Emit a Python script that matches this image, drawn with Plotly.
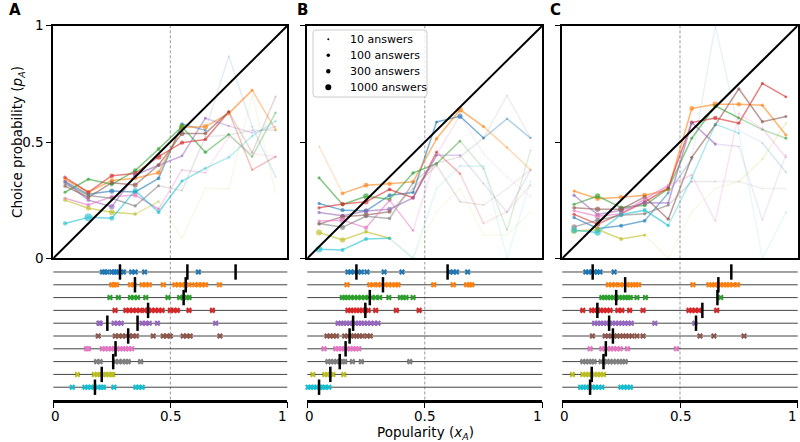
import plotly.graph_objects as go

# ---------------- data ----------------
bins = [0.05, 0.15, 0.25, 0.35, 0.45, 0.55, 0.65, 0.75, 0.85, 0.95]
series_colors = ['#1f77b4', '#ff7f0e', '#2ca02c', '#d62728', '#9467bd',
                 '#8c564b', '#e377c2', '#7f7f7f', '#bcbd22', '#17becf']

pA_A = [
    [0.33, 0.275, 0.289, 0.285, 0.344, 0.577, 0.55, 0.87, 0.566, 0.351],
    [0.34, 0.284, 0.335, 0.344, 0.368, 0.563, 0.566, 0.623, 0.723, 0.552],
    [0.284, 0.34, 0.318, 0.377, 0.47, 0.566, 0.456, 0.533, 0.437, 0.626],
    [0.348, 0.284, 0.355, 0.365, 0.437, 0.497, 0.511, 0.63, 0.38, 0.437],
    [0.33, 0.25, 0.222, 0.358, 0.40, 0.44, 0.602, 0.569, 0.54, 0.566],
    [0.31, 0.262, 0.325, 0.315, 0.401, 0.537, 0.537, 0.63, 0.454, 0.695],
    [0.258, 0.229, 0.265, 0.272, 0.212, 0.38, 0.368, 0.523, 0.45, 0.437],
    [0.32, 0.27, 0.258, 0.225, 0.312, 0.291, 0.523, 0.53, 0.55, 0.55],
    [0.25, 0.215, 0.198, 0.19, 0.244, 0.087, 0.301, 0.298, 0.702, 0.284],
    [0.15, 0.176, 0.172, 0.291, 0.198, 0.332, 0.387, 0.434, 0.526, 0.59],
]
n_A = [
    [80, 100, 500, 200, 150, 120, 40, 6, 10, 8],
    [80, 200, 300, 250, 400, 600, 600, 150, 50, 30],
    [60, 80, 200, 300, 150, 800, 120, 40, 25, 25],
    [100, 150, 300, 400, 800, 250, 120, 60, 20, 20],
    [60, 120, 700, 400, 60, 40, 50, 25, 15, 12],
    [80, 150, 250, 500, 200, 500, 150, 60, 15, 15],
    [80, 150, 250, 500, 60, 20, 20, 10, 8, 10],
    [80, 120, 250, 80, 60, 15, 12, 10, 10, 10],
    [120, 400, 800, 120, 30, 4, 4, 4, 3, 4],
    [200, 3000, 400, 600, 150, 50, 35, 25, 20, 20],
]

pA_B = [
    [0.236, 0.207, 0.204, 0.271, 0.283, 0.586, 0.611, 0.517, 0.6, 0.517],
    [0.481, 0.279, 0.314, 0.321, 0.329, 0.514, 0.639, 0.566, 0.476, 0.381],
    [0.346, 0.231, 0.267, 0.254, 0.367, 0.407, 0.504, 0.386, 0.121, 0.464],
    [0.217, 0.233, 0.243, 0.296, 0.26, 0.457, 0.364, 0.15, 0.2, 0.314],
    [0.197, 0.183, 0.203, 0.211, 0.26, 0.443, 0.443, 0.321, 0.197, 0.379],
    [0.147, 0.179, 0.186, 0.2, 0.30, 0.4, 0.243, 0.229, 0.3, 0.38],
    [0.16, 0.164, 0.131, 0.25, 0.119, 0.447, 0.614, 0.45, 0.35, 0.264],
    [0.15, 0.133, 0.181, 0.171, 0.324, 0.41, 0.436, 0.517, 0.7, 0.517],
    [0.111, 0.079, 0.114, 0.086, 0.0, 0.2, 0.3, 0.1, 0.1, 0.2],
    [0.039, 0.036, 0.083, 0.086, 0.0, 0.3, 0.397, 0.397, 0.0, 0.331],
]
n_B = [
    [80, 200, 300, 150, 80, 60, 500, 60, 25, 25],
    [12, 150, 400, 300, 150, 80, 800, 60, 25, 20],
    [60, 150, 800, 150, 100, 50, 40, 12, 10, 10],
    [80, 300, 500, 150, 150, 50, 25, 10, 3, 10],
    [80, 150, 500, 400, 100, 50, 25, 12, 10, 10],
    [100, 500, 500, 200, 15, 20, 10, 8, 3, 4],
    [80, 1200, 300, 150, 40, 12, 12, 4, 3, 8],
    [80, 500, 200, 100, 40, 20, 12, 10, 6, 10],
    [1000, 600, 150, 80, 3, 2, 2, 2, 2, 2],
    [1500, 200, 150, 100, 10, 5, 12, 10, 3, 8],
]

pA_C = [
    [0.175, 0.128, 0.14, 0.161, 0.281, 0.426, 1.0, 0.55, 0.496, 0.37],
    [0.289, 0.256, 0.262, 0.271, 0.295, 0.644, 0.662, 0.662, 0.658, 0.53],
    [0.232, 0.268, 0.218, 0.228, 0.299, 0.516, 0.655, 0.603, 0.553, 0.516],
    [0.189, 0.147, 0.192, 0.242, 0.303, 0.584, 0.603, 0.581, 0.752, 0.694],
    [0.271, 0.188, 0.207, 0.239, 0.238, 0.584, 0.491, 0.481, 0.164, 0.446],
    [0.217, 0.211, 0.211, 0.264, 0.168, 0.434, 0.574, 0.729, 0.587, 0.61],
    [0.204, 0.181, 0.192, 0.255, 0.313, 0.359, 0.16, 0.622, 0.558, 0.434],
    [0.135, 0.164, 0.185, 0.192, 0.228, 0.33, 0.33, 0.33, 0.3, 0.3],
    [0.117, 0.124, 0.083, 0.1, 0.0, 0.2, 0.3, 0.33, 0.426, 0.581],
    [0.121, 0.111, 0.188, 0.207, 0.141, 0.345, 0.577, 0.538, 0.0, 0.197],
]
n_C = [
    [100, 200, 200, 150, 40, 20, 3, 3, 10, 12],
    [80, 300, 400, 400, 120, 400, 800, 300, 80, 60],
    [80, 600, 200, 200, 150, 50, 200, 50, 25, 50],
    [80, 600, 200, 150, 80, 200, 300, 80, 60, 50],
    [80, 200, 250, 300, 60, 100, 60, 12, 6, 10],
    [150, 600, 1000, 200, 80, 80, 80, 60, 80, 50],
    [80, 800, 250, 200, 50, 20, 12, 12, 20, 25],
    [600, 400, 200, 100, 50, 20, 10, 4, 4, 4],
    [800, 1000, 150, 80, 5, 3, 4, 8, 12, 15],
    [800, 1200, 300, 200, 80, 25, 40, 25, 3, 12],
]

# popularity of individual items (crosses) and group means (black bars)
pop_A = [
    [0.21, 0.22, 0.23, 0.25, 0.26, 0.27, 0.28, 0.29, 0.3, 0.335, 0.35, 0.39, 0.62],
    [0.25, 0.26, 0.27, 0.33, 0.345, 0.38, 0.395, 0.41, 0.47, 0.52, 0.535, 0.55, 0.565, 0.58, 0.605, 0.62, 0.635, 0.65, 0.71],
    [0.242, 0.278, 0.33, 0.345, 0.36, 0.395, 0.49, 0.54, 0.555, 0.57, 0.58],
    [0.264, 0.31, 0.325, 0.34, 0.355, 0.37, 0.39, 0.405, 0.42, 0.435, 0.45, 0.465, 0.5, 0.515, 0.53, 0.58, 0.68],
    [0.195, 0.2, 0.26, 0.275, 0.29, 0.38, 0.395, 0.41, 0.445, 0.694],
    [0.192, 0.265, 0.28, 0.295, 0.31, 0.325, 0.34, 0.355, 0.427, 0.47, 0.485, 0.5, 0.555, 0.57, 0.585, 0.712],
    [0.142, 0.15, 0.21, 0.222, 0.235, 0.248, 0.26, 0.272, 0.285, 0.298, 0.31, 0.322, 0.335],
    [0.185, 0.2, 0.265, 0.28, 0.295, 0.31, 0.32, 0.373],
    [0.103, 0.175, 0.188, 0.2, 0.212, 0.224, 0.236, 0.248, 0.254],
    [0.081, 0.135, 0.148, 0.16, 0.175, 0.19, 0.205, 0.214, 0.259, 0.353, 0.365, 0.38],
]
mean_A = [[0.285, 0.573, 0.779], [0.349, 0.566], [0.557], [0.405], [0.231, 0.36],
          [0.32], [0.266], [0.256], [0.207], [0.178]]

pop_B = [
    [0.173, 0.185, 0.2, 0.215, 0.23, 0.254, 0.327, 0.403, 0.607, 0.62, 0.635, 0.682],
    [0.169, 0.266, 0.28, 0.3, 0.315, 0.33, 0.345, 0.36, 0.375, 0.386, 0.538, 0.621, 0.678, 0.69, 0.7],
    [0.149, 0.16, 0.172, 0.185, 0.2, 0.215, 0.23, 0.245, 0.26, 0.275, 0.29, 0.308, 0.347, 0.396, 0.408, 0.42, 0.45],
    [0.173, 0.185, 0.197, 0.21, 0.222, 0.235, 0.247, 0.259, 0.291, 0.379, 0.476],
    [0.131, 0.143, 0.155, 0.167, 0.18, 0.192, 0.205, 0.218, 0.23, 0.243, 0.256, 0.27, 0.285, 0.301],
    [0.084, 0.097, 0.11, 0.124, 0.159, 0.172, 0.185, 0.198, 0.21, 0.222, 0.235, 0.255, 0.268],
    [0.071, 0.121, 0.133, 0.145, 0.157, 0.17, 0.183, 0.195, 0.207, 0.219],
    [0.088, 0.1, 0.112, 0.125, 0.137, 0.15, 0.159, 0.192, 0.23, 0.436],
    [0.024, 0.074, 0.086, 0.098, 0.109, 0.155],
    [0.003, 0.015, 0.027, 0.04, 0.052, 0.064, 0.074, 0.092],
]
mean_B = [[0.209, 0.597], [0.322], [0.266], [0.247], [0.195], [0.18], [0.163],
          [0.138], [0.098], [0.05]]

pop_C = [
    [0.1, 0.112, 0.125, 0.137, 0.148, 0.16, 0.22],
    [0.196, 0.21, 0.225, 0.246, 0.26, 0.274, 0.288, 0.3, 0.312, 0.324, 0.555, 0.623, 0.635, 0.648, 0.66, 0.672, 0.685, 0.698, 0.71, 0.725, 0.744],
    [0.168, 0.18, 0.192, 0.205, 0.217, 0.23, 0.242, 0.255, 0.267, 0.279, 0.289, 0.317, 0.353, 0.673],
    [0.087, 0.125, 0.137, 0.15, 0.162, 0.175, 0.19, 0.203, 0.236, 0.253, 0.286, 0.343, 0.538, 0.55, 0.565, 0.58, 0.656],
    [0.137, 0.15, 0.162, 0.175, 0.188, 0.2, 0.213, 0.226, 0.24, 0.253, 0.266, 0.28, 0.293, 0.393, 0.563],
    [0.128, 0.182, 0.195, 0.208, 0.22, 0.232, 0.245, 0.258, 0.27, 0.283, 0.296, 0.317, 0.343, 0.585, 0.644, 0.772],
    [0.118, 0.168, 0.18, 0.192, 0.205, 0.218, 0.232, 0.246, 0.277, 0.485],
    [0.087, 0.1, 0.112, 0.125, 0.135, 0.165, 0.178, 0.19, 0.203, 0.216, 0.23, 0.243, 0.255, 0.267],
    [0.043, 0.087, 0.1, 0.112, 0.125, 0.137, 0.15, 0.162, 0.175],
    [0.078, 0.09, 0.102, 0.115, 0.128, 0.14, 0.155, 0.168, 0.249, 0.262, 0.276, 0.289],
]
mean_C = [[0.129, 0.718], [0.267, 0.663], [0.229, 0.659], [0.149, 0.595], [0.199, 0.568],
          [0.215], [0.185], [0.175], [0.125], [0.118]]

legend_counts = [10, 100, 300, 1000]
panel_labels = ['A', 'B', 'C']
tick_vals = [0, 0.5, 1]
tick_text = ['0', '0.5', '1']
tick_label_nudge = [2, 0, -5]   # pixel nudge of bottom tick labels, as in the reference

# ---------------- helpers ----------------
def msize(n):
    return 1.15 * n ** 0.24

def alpha(n):
    return min(0.9, 0.1 + n / 60.0)

def rgba(hexc, a):
    h = hexc.lstrip('#')
    r, g, b = int(h[0:2], 16), int(h[2:4], 16), int(h[4:6], 16)
    return f'rgba({r},{g},{b},{a:.3f})'

FONT = 'DejaVu Sans'
W, H = 800, 442
def px(x):
    return x / W
def py(y):
    return (H - y) / H

x_dom = [[53.3, 287.3], [307.3, 542.3], [562.3, 797.7]]
top_dom = [py(258.3), py(25.7)]
bot_dom = [py(399.5), py(262.0)]
row_range = [9.96, -0.78]

fig = go.Figure()

panels = [(pA_A, n_A, pop_A, mean_A), (pA_B, n_B, pop_B, mean_B), (pA_C, n_C, pop_C, mean_C)]

for pi, (pvals, nvals, pops, means) in enumerate(panels):
    xt = 'x' if pi == 0 else f'x{pi + 1}'
    yt = 'y' if pi == 0 else f'y{pi + 1}'
    xb = f'x{pi + 4}'
    yb = f'y{pi + 4}'
    for si in range(10):
        col = series_colors[si]
        ys = pvals[si]
        ns = nvals[si]
        for k in range(len(bins) - 1):
            a = 0.65 * min(alpha(ns[k]), alpha(ns[k + 1]))
            fig.add_trace(go.Scatter(
                x=[bins[k], bins[k + 1]], y=[ys[k], ys[k + 1]], mode='lines',
                line=dict(color=rgba(col, a), width=1.5),
                xaxis=xt, yaxis=yt, showlegend=False, hoverinfo='skip'))
    for si in range(10):
        col = series_colors[si]
        ys = pvals[si]
        ns = nvals[si]
        fig.add_trace(go.Scatter(
            x=bins, y=ys, mode='markers',
            marker=dict(size=[msize(n) for n in ns],
                        color=[rgba(col, alpha(n)) for n in ns], line=dict(width=0)),
            xaxis=xt, yaxis=yt, showlegend=False))
    for si in range(10):
        col = series_colors[si]
        fig.add_trace(go.Scatter(
            x=pops[si], y=[si] * len(pops[si]), mode='markers',
            marker=dict(symbol='x-thin', size=4.5, line=dict(width=2.2, color=col), color=col),
            xaxis=xb, yaxis=yb, showlegend=False, cliponaxis=False))
    for si in range(10):
        fig.add_trace(go.Scatter(
            x=means[si], y=[si] * len(means[si]), mode='markers',
            marker=dict(symbol='line-ns', size=11, line=dict(width=2.5, color='black')),
            xaxis=xb, yaxis=yb, showlegend=False, cliponaxis=False))

shapes = []
annotations = []
for pi in range(3):
    xt = 'x' if pi == 0 else f'x{pi + 1}'
    yt = 'y' if pi == 0 else f'y{pi + 1}'
    xb = f'x{pi + 4}'
    yb = f'y{pi + 4}'
    shapes.append(dict(type='line', xref=xt, yref=yt, x0=0, y0=0, x1=1, y1=1,
                       line=dict(color='black', width=2), layer='above'))
    shapes.append(dict(type='line', xref=xt, yref=f'{yt} domain', x0=0.5, x1=0.5, y0=0, y1=1,
                       line=dict(color='#999999', width=1, dash='3px,2px'), layer='below'))
    shapes.append(dict(type='line', xref=xb, yref=f'{yb} domain', x0=0.5, x1=0.5, y0=0, y1=1,
                       line=dict(color='#999999', width=1, dash='3px,2px'), layer='below'))
    for si in range(10):
        shapes.append(dict(type='line', xref=f'{xb} domain', yref=yb, x0=0, x1=1, y0=si, y1=si,
                           line=dict(color='#444444', width=1), layer='below'))
    annotations.append(dict(text=f'<b>{panel_labels[pi]}</b>', xref='paper', yref='paper',
                            x=px([15, 302, 555][pi]), y=py(10), xanchor='center', yanchor='middle',
                            showarrow=False, font=dict(family=FONT, size=15, color='black')))
    for tv, tt, dx in zip(tick_vals, tick_text, tick_label_nudge):
        annotations.append(dict(text=tt, xref=xb, yref='paper', x=tv, y=py(415.5),
                                xshift=dx, xanchor='center', yanchor='middle', showarrow=False,
                                font=dict(family=FONT, size=13.5, color='black')))

# legend (box, size markers, labels) drawn in panel B
lx0, lx1, ly0, ly1, rr = 313.0, 427.0, 30.0, 97.0, 3.0
box_path = (f'M {px(lx0 + rr)},{py(ly0)} L {px(lx1 - rr)},{py(ly0)} '
            f'Q {px(lx1)},{py(ly0)} {px(lx1)},{py(ly0 + rr)} '
            f'L {px(lx1)},{py(ly1 - rr)} Q {px(lx1)},{py(ly1)} {px(lx1 - rr)},{py(ly1)} '
            f'L {px(lx0 + rr)},{py(ly1)} Q {px(lx0)},{py(ly1)} {px(lx0)},{py(ly1 - rr)} '
            f'L {px(lx0)},{py(ly0 + rr)} Q {px(lx0)},{py(ly0)} {px(lx0 + rr)},{py(ly0)} Z')
shapes.append(dict(type='path', xref='paper', yref='paper', path=box_path,
                   fillcolor='rgba(255,255,255,0.85)', line=dict(color='#cccccc', width=1),
                   layer='above'))
for k, n in enumerate(legend_counts):
    cy = 39.3 + 16.0 * k
    r = msize(n) / 2
    shapes.append(dict(type='circle', xref='paper', yref='paper',
                       xsizemode='pixel', ysizemode='pixel',
                       xanchor=px(328.3), yanchor=py(cy), x0=-r, x1=r, y0=-r, y1=r,
                       fillcolor='black', line=dict(width=0), layer='above'))
    annotations.append(dict(text=f'{n} answers', xref='paper', yref='paper',
                            x=px(347.5), y=py(cy), xanchor='left', yanchor='middle',
                            showarrow=False, font=dict(family=FONT, size=11, color='black')))

annotations.append(dict(text='Choice probability (<i>p<sub>A</sub></i>)', xref='paper', yref='paper',
                        x=px(18), y=py(142), textangle=-90, showarrow=False,
                        xanchor='center', yanchor='middle',
                        font=dict(family=FONT, size=13.5, color='black')))
annotations.append(dict(text='Popularity (<i>x<sub>A</sub></i>)', xref='paper', yref='paper',
                        x=px(425), y=py(432.5), showarrow=False, xanchor='center', yanchor='middle',
                        font=dict(family=FONT, size=13.5, color='black')))

layout = dict(
    width=W, height=H, autosize=False,
    margin=dict(l=0, r=0, t=0, b=0, autoexpand=False),
    paper_bgcolor='white', plot_bgcolor='white',
    font=dict(family=FONT, size=13.5, color='black'),
    shapes=shapes, annotations=annotations,
    showlegend=False,
)
for pi in range(3):
    xk = 'xaxis' if pi == 0 else f'xaxis{pi + 1}'
    yk = 'yaxis' if pi == 0 else f'yaxis{pi + 1}'
    xt = 'x' if pi == 0 else f'x{pi + 1}'
    yt = 'y' if pi == 0 else f'y{pi + 1}'
    layout[xk] = dict(domain=[px(x_dom[pi][0]), px(x_dom[pi][1])], range=[0, 1],
                      anchor=yt, showgrid=False, zeroline=False, showline=True, mirror=True,
                      linecolor='black', linewidth=1.8, ticks='', showticklabels=False,
                      fixedrange=True, automargin=False)
    layout[yk] = dict(domain=top_dom, range=[0, 1], anchor=xt, showgrid=False, zeroline=False,
                      showline=True, mirror=True, linecolor='black', linewidth=1.8,
                      ticks='outside', ticklen=5, tickwidth=1.2, tickcolor='black',
                      tickvals=tick_vals, ticktext=tick_text, showticklabels=(pi == 0),
                      tickfont=dict(family=FONT, size=13.5, color='black'), automargin=False)
    xbk = f'xaxis{pi + 4}'
    ybk = f'yaxis{pi + 4}'
    layout[xbk] = dict(domain=[px(x_dom[pi][0]), px(x_dom[pi][1])], range=[0, 1],
                       anchor=f'y{pi + 4}', showgrid=False, zeroline=False, showline=True,
                       linecolor='black', linewidth=2.8, ticks='outside', ticklen=6, tickwidth=1.2,
                       tickcolor='black', tickvals=tick_vals, showticklabels=False,
                       automargin=False)
    layout[ybk] = dict(domain=bot_dom, range=row_range, anchor=f'x{pi + 4}', visible=False,
                       showgrid=False, zeroline=False, automargin=False)

fig.update_layout(**layout)
fig.write_html('out.html')
